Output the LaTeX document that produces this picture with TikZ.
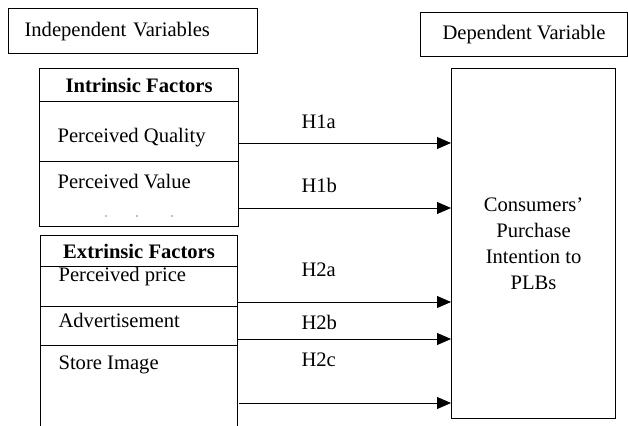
\documentclass[tikz,border=0pt]{standalone}
\usepackage{fontspec}
\setmainfont{Liberation Serif}
\usetikzlibrary{arrows.meta,positioning}

\begin{document}
\begin{tikzpicture}[x=1pt, y=-1pt, font=\fontsize{20.6}{26}\selectfont]
\tikzstyle{every path}=[line width=1.1pt];
\tikzstyle{box}=[draw, anchor=north west, inner sep=0pt];
\tikzstyle{item}=[anchor=west, inner sep=0pt];
\tikzstyle{hyp}=[-{Triangle[length=14pt, width=12pt]}, line width=0.9pt];
\useasboundingbox (0,0) rectangle (628,425);
% headings
\path (8,8) node (indep)[box, minimum height=45pt, text width=217pt, inner xsep=16pt, align=left] {Independent Variables}
(420,12) node (deplab)[box, minimum width=207pt, minimum height=44pt] {Dependent Variable};
% intrinsic factors
\path (39,68) node (intr)[box, minimum width=199pt, minimum height=33pt] {\textbf{Intrinsic Factors}}
(39,101) node (quality)[box, minimum width=199pt, minimum height=60pt] {}
(39,161) node (value)[box, minimum width=199pt, minimum height=65pt] {};
\path (57,138) node (qualtxt)[item] {Perceived Quality}
(57,182) node (valtxt)[item] {Perceived Value};
\foreach \x in {106,137,172} \fill[gray] (\x,216) circle (0.8pt);
% extrinsic factors
\path (40,235) node (extr)[box, minimum width=197pt, minimum height=31pt] {\textbf{Extrinsic Factors}}
(40,266) node (price)[box, minimum width=197pt, minimum height=40pt] {}
(40,306) node (advert)[box, minimum width=197pt, minimum height=39pt] {}
(40,345) node (store)[box, minimum width=197pt, minimum height=90pt] {};
\path (58,277) node (pricetxt)[item] {Perceived price}
(58,320) node (advtxt)[item] {Advertisement}
(58,365) node (storetxt)[item] {Store Image};
% dependent variable
\path (451,68) node (dv)[box, minimum width=164pt, minimum height=350pt] {};
\path (dv.center) node (dvtxt)[align=center] {Consumers'\\Purchase\\Intention to\\PLBs};
% hypotheses
\coordinate (s1a) at (239,143);
\coordinate (s1b) at (238,208);
\coordinate (s2a) at (237,302);
\coordinate (s2b) at (237,339);
\coordinate (s2c) at (239,403);
\draw[hyp] (s1a) -- (s1a -| dv.west);
\draw[hyp] (s1b) -- (s1b -| dv.west);
\draw[hyp] (s2a) -- (s2a -| dv.west);
\draw[hyp] (s2b) -- (s2b -| dv.west);
\draw[hyp] (s2c) -- (s2c -| dv.west);
\path (301,122) node (h1a)[item] {H1a}
(301,185) node (h1b)[item] {H1b}
(301,270) node (h2a)[item] {H2a}
(301,322) node (h2b)[item] {H2b}
(301,360) node (h2c)[item] {H2c};
\end{tikzpicture}
\end{document}
